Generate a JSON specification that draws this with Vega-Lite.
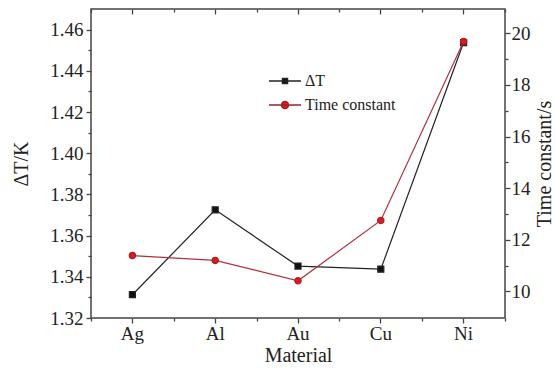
{
  "$schema": "https://vega.github.io/schema/vega-lite/v6.json",
  "width": 414,
  "height": 309,
  "autosize": {"type": "none"},
  "padding": {"left": 91, "top": 9, "right": 50, "bottom": 52},
  "background": "white",
  "config": {
    "view": {"stroke": "#444", "strokeWidth": 1.5},
    "font": "Liberation Serif",
    "axis": {
      "labelFont": "Liberation Serif",
      "titleFont": "Liberation Serif",
      "labelFontSize": 19,
      "titleFontSize": 20,
      "titleFontWeight": "normal",
      "labelColor": "#222",
      "titleColor": "#222",
      "tickColor": "#444",
      "tickWidth": 1.3,
      "domain": false,
      "grid": false,
      "labelOverlap": false,
      "labelFlush": false
    },
    "legend": {
      "orient": "none",
      "padding": 0,
      "symbolSize": 400,
      "labelFont": "Liberation Serif",
      "labelFontSize": 16,
      "labelColor": "#222",
      "labelOffset": 9
    }
  },
  "data": {
    "values": [
      {"Material": "Ag", "dT": 1.3313, "tau": 11.39},
      {"Material": "Al", "dT": 1.3725, "tau": 11.2},
      {"Material": "Au", "dT": 1.3452, "tau": 10.41},
      {"Material": "Cu", "dT": 1.3437, "tau": 12.75},
      {"Material": "Ni", "dT": 1.4537, "tau": 19.68}
    ]
  },
  "layer": [
    {
      "layer": [
        {
          "mark": {"type": "line", "color": "#222", "strokeWidth": 1.2},
          "encoding": {
            "x": {"field": "Material", "type": "nominal", "bandPosition": 0.5,
              "scale": {"type": "band", "paddingInner": 0, "paddingOuter": 0},
              "axis": {"orient": "bottom", "title": "Material", "tickSize": 5, "labelPadding": 1, "titlePadding": 2, "labelAngle": 0, "labelFont": "Liberation Serif"}},
            "y": {"field": "dT", "type": "quantitative",
              "scale": {"domain": [1.32, 1.47], "nice": false, "zero": false},
              "axis": {"orient": "left", "title": "ΔT/K", "labelFont": "Liberation Serif",
                "values": [1.32, 1.33, 1.34, 1.35, 1.36, 1.37, 1.38, 1.39, 1.4, 1.41, 1.42, 1.43, 1.44, 1.45, 1.46],
                "labelExpr": "abs(datum.value*50-round(datum.value*50))<0.01 ? format(datum.value,'.2f') : ''",
                "tickSize": {"condition": {"test": "abs(datum.value*50-round(datum.value*50))<0.01", "value": 5}, "value": 3},
                "labelPadding": 3, "titlePadding": 18}}
          }
        },
        {
          "mark": {"type": "point", "shape": "square", "filled": true, "size": 36, "opacity": 1, "stroke": "#222222", "strokeWidth": 1.2},
          "encoding": {
            "x": {"field": "Material", "type": "nominal", "bandPosition": 0.5,
              "scale": {"type": "band", "paddingInner": 0, "paddingOuter": 0},
              "axis": {"orient": "bottom", "tickBand": "extent", "labels": false, "title": null, "tickSize": 3}},
            "y": {"field": "dT", "type": "quantitative",
              "scale": {"domain": [1.32, 1.47], "nice": false, "zero": false},
              "axis": {"orient": "left", "title": "ΔT/K", "labelFont": "Liberation Serif",
                "values": [1.32, 1.33, 1.34, 1.35, 1.36, 1.37, 1.38, 1.39, 1.4, 1.41, 1.42, 1.43, 1.44, 1.45, 1.46],
                "labelExpr": "abs(datum.value*50-round(datum.value*50))<0.01 ? format(datum.value,'.2f') : ''",
                "tickSize": {"condition": {"test": "abs(datum.value*50-round(datum.value*50))<0.01", "value": 5}, "value": 3},
                "labelPadding": 3, "titlePadding": 18}},
            "fill": {"datum": "ΔT", "type": "nominal",
              "scale": {"domain": ["ΔT"], "range": ["#111111"]},
              "legend": {"title": null, "legendX": 183, "legendY": 61,
                "symbolType": "M-1.6,0H1.6M-0.25,-0.25H0.25V0.25H-0.25Z"}}
          }
        }
      ],
      "resolve": {"axis": {"x": "independent"}}
    },
    {
      "layer": [
        {
          "mark": {"type": "line", "color": "#b0303a", "strokeWidth": 1.2},
          "encoding": {
            "x": {"field": "Material", "type": "nominal", "bandPosition": 0.5,
              "scale": {"type": "band", "paddingInner": 0, "paddingOuter": 0},
              "axis": {"orient": "top", "labels": false, "title": null, "tickSize": -5}},
            "y": {"field": "tau", "type": "quantitative",
              "scale": {"domain": [8.97, 20.94], "nice": false, "zero": false},
              "axis": {"orient": "right", "title": "Time constant/s", "titleAngle": 270, "labelFont": "Liberation Serif",
                "values": [10, 11, 12, 13, 14, 15, 16, 17, 18, 19, 20],
                "labelExpr": "datum.value % 2 == 0 ? datum.label : ''",
                "tickSize": {"condition": {"test": "datum.value % 2 == 0", "value": 5}, "value": 3},
                "labelPadding": 1, "titlePadding": 24}}
          }
        },
        {
          "mark": {"type": "point", "shape": "circle", "filled": true, "fill": "#e01a1a", "size": 40, "opacity": 1, "strokeWidth": 1.2},
          "encoding": {
            "x": {"field": "Material", "type": "nominal", "bandPosition": 0.5,
              "scale": {"type": "band", "paddingInner": 0, "paddingOuter": 0},
              "axis": {"orient": "top", "tickBand": "extent", "labels": false, "title": null, "tickSize": -3}},
            "y": {"field": "tau", "type": "quantitative",
              "scale": {"domain": [8.97, 20.94], "nice": false, "zero": false},
              "axis": {"orient": "right", "title": "Time constant/s", "titleAngle": 270, "labelFont": "Liberation Serif",
                "values": [10, 11, 12, 13, 14, 15, 16, 17, 18, 19, 20],
                "labelExpr": "datum.value % 2 == 0 ? datum.label : ''",
                "tickSize": {"condition": {"test": "datum.value % 2 == 0", "value": 5}, "value": 3},
                "labelPadding": 1, "titlePadding": 24}},
            "stroke": {"datum": "Time constant", "type": "nominal",
              "scale": {"domain": ["Time constant"], "range": ["#a02028"]},
              "legend": {"title": null, "legendX": 183, "legendY": 85,
                "symbolType": "M-1.6,0H1.6M-0.35,0A0.35,0.35,0,1,0,0.35,0A0.35,0.35,0,1,0,-0.35,0Z"}}
          }
        }
      ],
      "resolve": {"axis": {"x": "independent"}}
    }
  ],
  "resolve": {"scale": {"y": "independent"}, "axis": {"x": "independent", "y": "independent"}}
}
